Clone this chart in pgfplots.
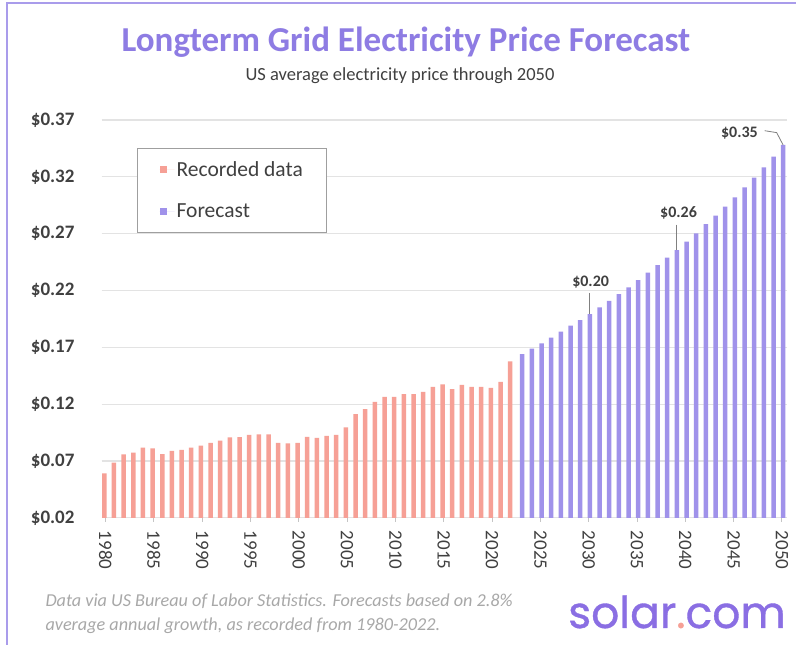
\documentclass[border=0pt]{standalone}
\usepackage{pgfplots}
\pgfplotsset{compat=1.18}
\usepackage{fontspec}
\setmainfont{Carlito}
\newfontfamily\logofont{Poppins}[FakeBold=0.8]
\definecolor{recc}{HTML}{F6A096}
\definecolor{forc}{HTML}{A092EA}
\definecolor{titlec}{HTML}{8E7CE3}
\definecolor{logoc}{HTML}{8A6EE3}
\definecolor{txt}{HTML}{404040}
\definecolor{gridc}{HTML}{E3E3E3}
\definecolor{framec}{HTML}{A99CEB}
\definecolor{footc}{HTML}{A8A8A8}
\pgfplotsset{legimg/.style={legend image code/.code={\fill[##1] (0pt,-3.75pt) rectangle (7.5pt,3.75pt); \path (0pt,0pt) -- (15pt,0pt);}}}
\begin{document}
\begin{tikzpicture}[x=1pt,y=1pt]
\useasboundingbox (0,0) rectangle (796,645);
\fill[white] (0,0) rectangle (796,645);
\draw[framec, line width=2pt] (7,-2) -- (7,642) -- (800,642);
\node[anchor=base, font=\fontsize{35}{40}\selectfont\bfseries, text=titlec] at (406,593) {Longterm Grid Electricity Price Forecast};
\node[anchor=base, font=\fontsize{18.5}{22}\selectfont, text=txt] at (400,564) {US average electricity price through 2050};
\begin{axis}[
  at={(101.7pt,127.2pt)}, anchor=south west,
  scale only axis, width=685.3pt, height=397.8pt,
  xmin=1979.61, xmax=2050.52, ymin=0.02, ymax=0.37,
  ybar, bar width=4.5pt,
  axis line style={draw=none},
  ymajorgrids, grid style={gridc, line width=1.2pt},
  ytick={0.02,0.07,0.12,0.17,0.22,0.27,0.32,0.37},
  yticklabels={\$0.02,\$0.07,\$0.12,\$0.17,\$0.22,\$0.27,\$0.32,\$0.37},
  ytick style={draw=none},
  yticklabel style={anchor=east, inner sep=0pt, xshift=-23pt, font=\fontsize{19}{22}\selectfont\bfseries, text=txt},
  xtick={1980,1985,1990,1995,2000,2005,2010,2015,2020,2025,2030,2035,2040,2045,2050},
  xticklabels={1980,1985,1990,1995,2000,2005,2010,2015,2020,2025,2030,2035,2040,2045,2050},
  xtick pos=bottom, tick align=outside, major tick length=4pt,
  xtick style={gridc!70!gray, line width=1pt},
  xticklabel style={rotate=-90, anchor=west, inner sep=0pt, font=\fontsize{19}{22}\selectfont, text=txt},
  xticklabel shift=9pt,
  legend style={at={(0.0515,0.93)}, anchor=north west, draw=gray!75, line width=1.2pt,
    font=\fontsize{21.5}{25}\selectfont, text=txt, inner xsep=22pt, inner ysep=11pt, row sep=22pt, fill=white},
  legend cell align=left,
]
\addplot[ybar, bar shift=-1.2pt, fill=recc, draw=none, legimg] coordinates {
(1980,0.059) (1981,0.0685) (1982,0.0759) (1983,0.0773) (1984,0.0817) (1985,0.0811)
(1986,0.0761) (1987,0.0788) (1988,0.0797) (1989,0.0817) (1990,0.0834) (1991,0.086)
(1992,0.0878) (1993,0.0908) (1994,0.091) (1995,0.093) (1996,0.0934) (1997,0.0934)
(1998,0.086) (1999,0.0855) (2000,0.086) (2001,0.0913) (2002,0.0904) (2003,0.092)
(2004,0.093) (2005,0.0996) (2006,0.1112) (2007,0.1156) (2008,0.122) (2009,0.1264)
(2010,0.1264) (2011,0.1288) (2012,0.1288) (2013,0.1308) (2014,0.1352) (2015,0.1373)
(2016,0.1332) (2017,0.137) (2018,0.1352) (2019,0.1352) (2020,0.1343) (2021,0.1396)
(2022,0.1577)};
\addlegendentry{Recorded data}
\addplot[ybar, bar shift=1.2pt, fill=forc, draw=none, legimg] coordinates {
(2023,0.1641) (2024,0.1688) (2025,0.1735) (2026,0.1785) (2027,0.1838) (2028,0.189)
(2029,0.194) (2030,0.1993) (2031,0.2052) (2032,0.2108) (2033,0.2169) (2034,0.2228)
(2035,0.2292) (2036,0.2357) (2037,0.2422) (2038,0.2489) (2039,0.2556) (2040,0.2629)
(2041,0.2703) (2042,0.2783) (2043,0.2858) (2044,0.2937) (2045,0.302) (2046,0.3108)
(2047,0.3193) (2048,0.3284) (2049,0.3377) (2050,0.348)};
\addlegendentry{Forecast}
\node[font=\fontsize{16}{19}\selectfont\bfseries, text=txt] at (axis cs:2030.2,0.2275) {\$0.20};
\draw[gray, line width=0.8pt] (axis cs:2030.12,0.218) -- (axis cs:2030.12,0.1993);
\node[font=\fontsize{16}{19}\selectfont\bfseries, text=txt] at (axis cs:2039.3,0.2885) {\$0.26};
\draw[gray, line width=0.8pt] (axis cs:2039.12,0.278) -- (axis cs:2039.12,0.2556);
\node[font=\fontsize{16}{19}\selectfont\bfseries, text=txt] at (axis cs:2045.6,0.3585) {\$0.35};
\draw[gray, line width=0.8pt] (axis cs:2048.2,0.3606) -- (axis cs:2049.45,0.3589) -- (axis cs:2050.12,0.348);
\end{axis}
\node[anchor=base west, font=\fontsize{18.2}{22}\selectfont\itshape, text=footc] at (42,38) {Data via US Bureau of Labor Statistics. Forecasts based on 2.8\%};
\node[anchor=base west, font=\fontsize{18.2}{22}\selectfont\itshape, text=footc] at (42,14) {average annual growth, as recorded from 1980-2022.};
\node[anchor=base west, inner sep=0pt, font=\logofont\fontsize{44}{50}\selectfont] at (568,17) {\textcolor{logoc}{solar}\textcolor{recc}{.}\textcolor{logoc}{com}};
\end{tikzpicture}
\end{document}
